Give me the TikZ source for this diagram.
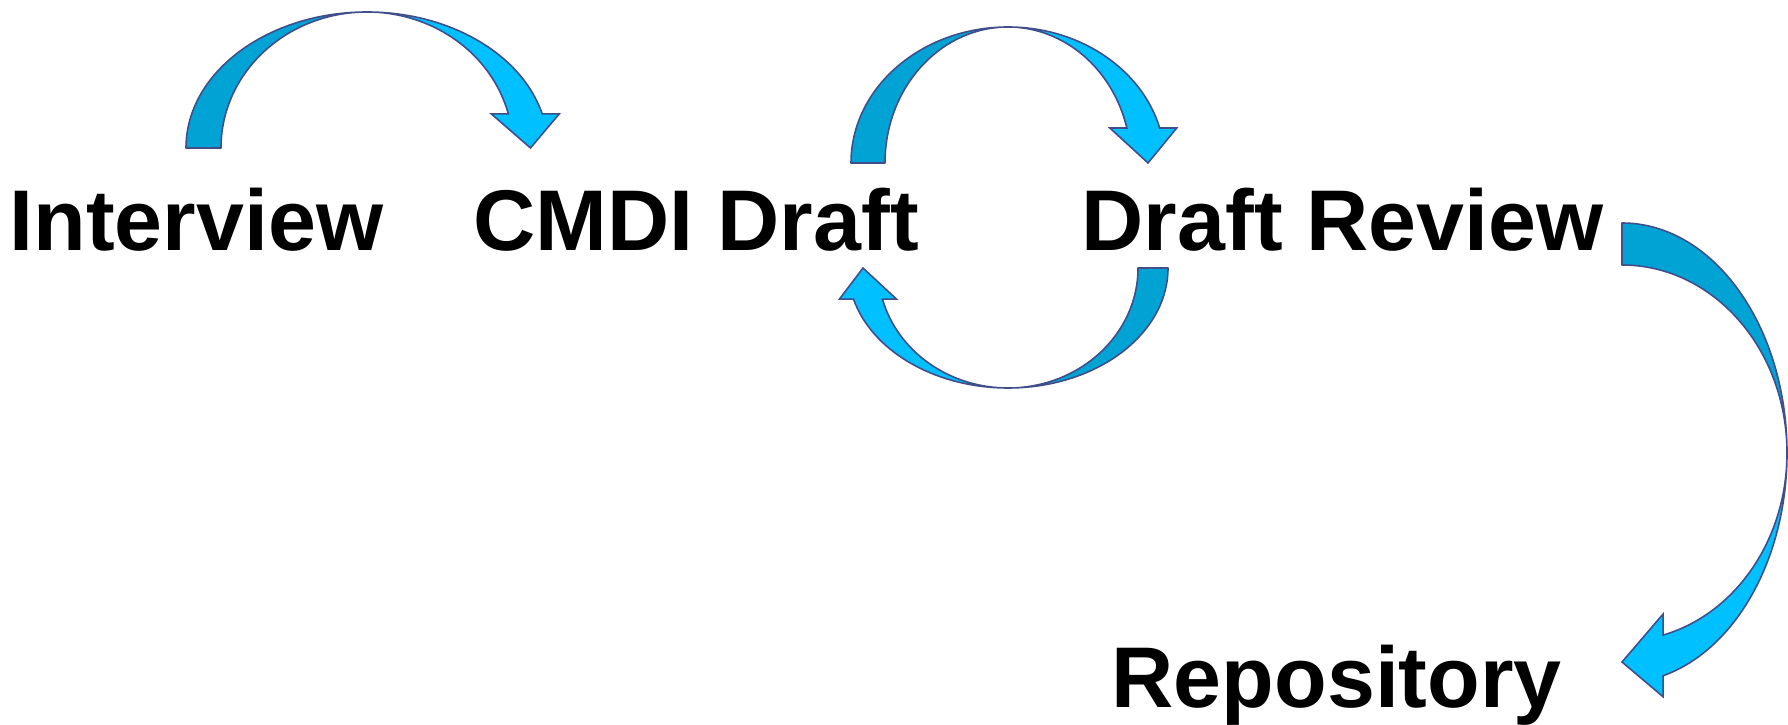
\documentclass[tikz,border=0pt]{standalone}
\usepackage{fontspec}
\setmainfont{Liberation Sans}
\usetikzlibrary{positioning}
\definecolor{arrdark}{HTML}{00A3D4}
\definecolor{arrlight}{HTML}{00C0FF}
\definecolor{arredge}{HTML}{404E8C}
\tikzset{
  stage/.style={font=\fontsize{24.5}{29}\selectfont\bfseries, inner sep=0pt, anchor=base west},
  tailpart/.style={fill=arrdark, draw=arredge, line width=0.45pt, line join=round},
  headpart/.style={fill=arrlight, draw=arredge, line width=0.45pt, line join=miter},
}
% bent block arrow: #1 centre, #2 rotation, #3 outer radius, #4 inner radius,
% #5 shared radius, #6 angle of the head base, #7 overhang of the head
\newcommand{\bentarrow}[7]{%
  \begin{scope}[shift={#1}, rotate=#2]
    \filldraw[tailpart] (-#3,0) arc[start angle=180, end angle=90, x radius=#3, y radius=#5]
      arc[start angle=90, end angle=180, x radius=#4, y radius=#5] -- cycle;
    \filldraw[headpart] (0,#5) arc[start angle=90, end angle=#6, x radius=#3, y radius=#5]
      -- ++(#7,0) -- ({(#3+#4)/2},0) -- ({#4*cos(#6)-#7},{#5*sin(#6)})
      -- ({#4*cos(#6)},{#5*sin(#6)})
      arc[start angle=#6, end angle=90, x radius=#4, y radius=#5] -- cycle;
  \end{scope}}

\begin{document}
\begin{tikzpicture}[x=0.01cm, y=0.01cm]
  \useasboundingbox (0,0) rectangle (1788,-725);

  \node[stage] (interview) at (9,-251) {Interview};
  \node[stage] (cmdi) at (473,-251) {CMDI Draft};
  \node[stage] (review) at (1081,-251) {Draft Review};
  \node[stage] (repo) at (1111,-707) {Repository};

  % interview -> cmdi, cmdi <-> review, review -> repo
  \bentarrow{(367,-148)}{0}{181}{146}{136}{14.5}{17}
  \bentarrow{(1008,-163)}{0}{157}{123}{136}{14.9}{17}
  \bentarrow{(1008,-268)}{180}{160}{130}{120}{15}{14}
  \bentarrow{(1622,-453)}{-90}{230}{188}{165}{14.4}{21}
\end{tikzpicture}
\end{document}
